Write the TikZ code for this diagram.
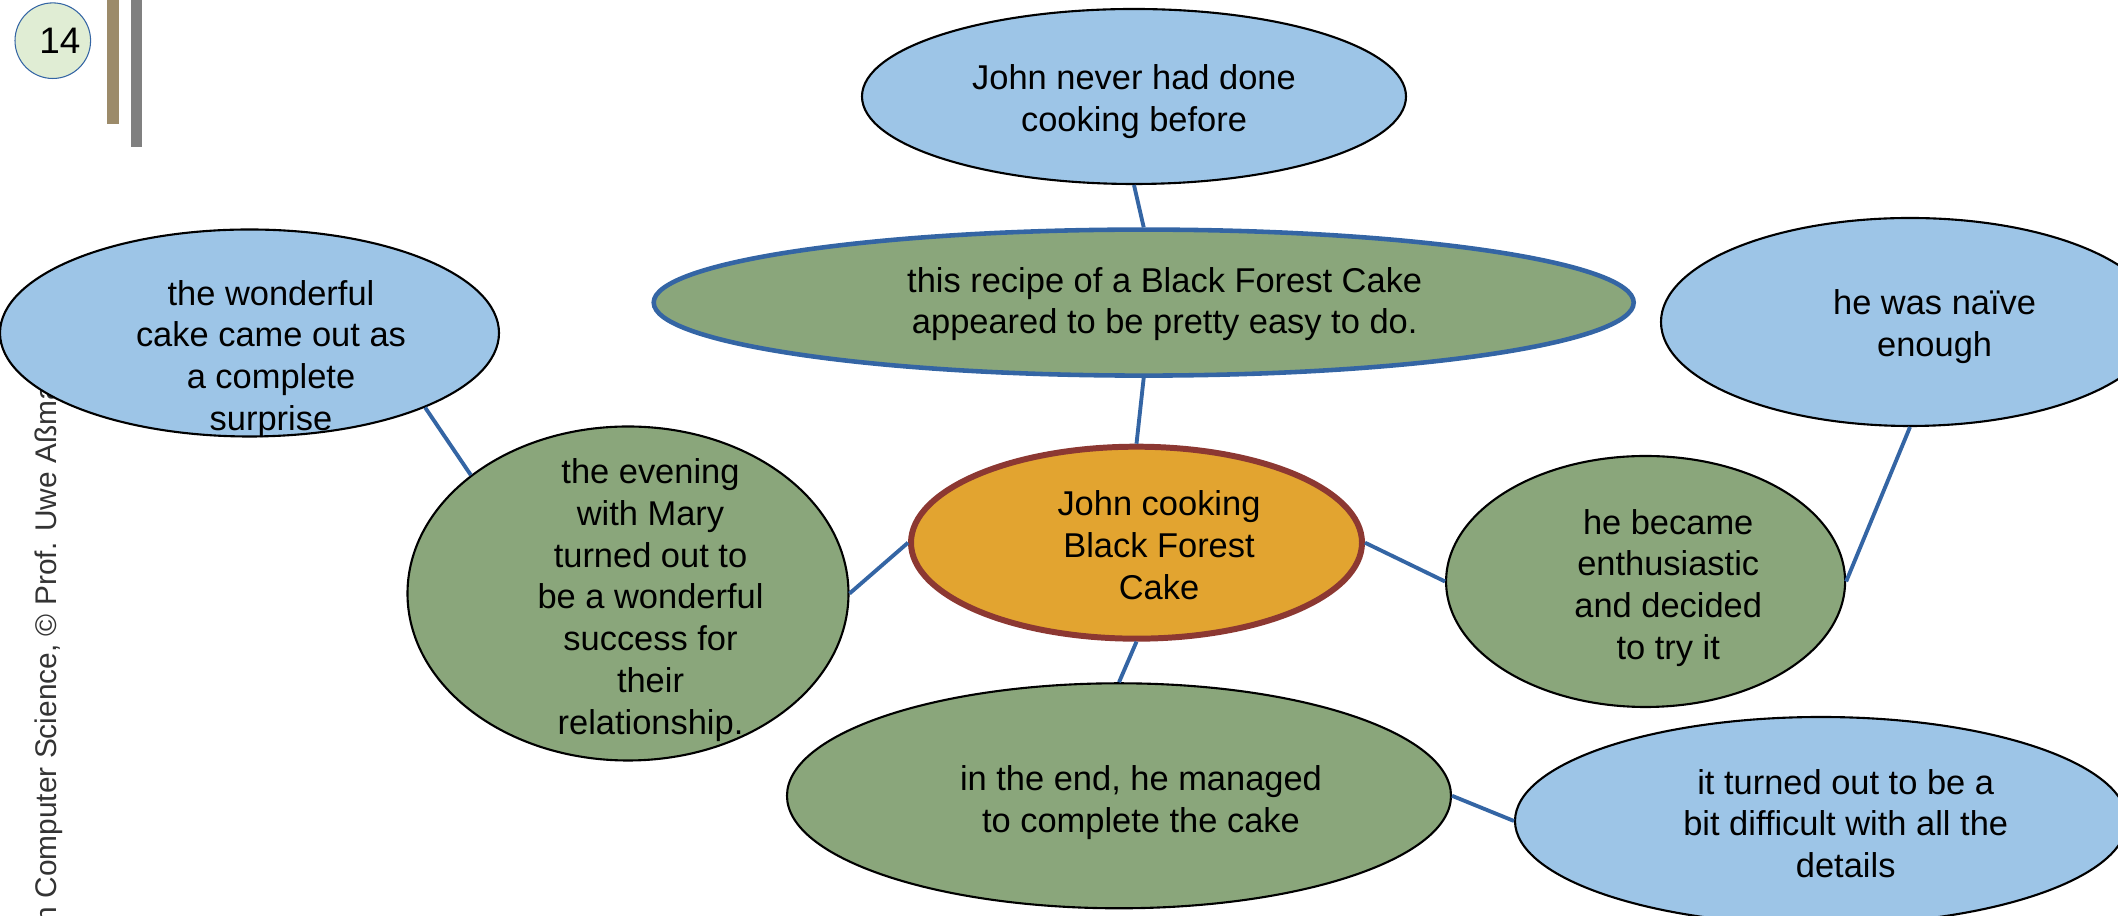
\documentclass[tikz,border=0pt]{standalone}
\usepackage{fontspec}
\setmainfont{Liberation Sans}
\usetikzlibrary{shapes.geometric}
\definecolor{bubbleblue}{RGB}{157,197,231}
\definecolor{bubblegreen}{RGB}{138,166,123}
\definecolor{cakeorange}{RGB}{226,164,48}
\definecolor{cakered}{RGB}{140,56,50}
\definecolor{linkblue}{RGB}{52,101,164}
\definecolor{pagegreen}{RGB}{224,237,212}
\definecolor{bartan}{RGB}{156,139,106}
\definecolor{bargray}{RGB}{128,128,128}

\begin{document}
\begin{tikzpicture}
        \tikzstyle{every node}=[inner sep=0pt]
        \tikzstyle{bubble}=[ellipse, draw=black, line width=0.6pt]
        \tikzstyle{blue bubble}=[bubble, fill=bubbleblue]
        \tikzstyle{green bubble}=[bubble, fill=bubblegreen]
        \tikzstyle{words}=[align=center, font=\fontsize{9.8}{11.9}\selectfont]
        \tikzstyle{link}=[draw=linkblue, line width=1.1pt]
        \useasboundingbox (0,0) rectangle (21.18,-9.16);
        \clip (0,0) rectangle (21.18,-9.16);
        \fill[bartan] (1.073,0) rectangle (1.19,-1.237);
        \fill[bargray] (1.307,0) rectangle (1.423,-1.467);
        \node[circle, draw=linkblue, line width=0.3pt, fill=pagegreen, minimum size=0.756cm, label={[font=\fontsize{10.5}{12}\selectfont, xshift=0.7mm]center:14}] (page) at (0.528,-0.407) {};
        \node[rotate=90, anchor=base west, text=black!80, font=\fontsize{8.5}{10}\selectfont] (footer) at (0.567,-9.24) {n Computer Science, © Prof. Uwe Aßma};
        \node[blue bubble, minimum width=5.44cm, minimum height=1.75cm, label={[words, yshift=-0.55mm]center:{John never had done\\cooking before}}] (never) at (11.34,-0.965) {};
        \node[green bubble, draw=linkblue, line width=1.3pt, minimum width=9.8cm, minimum height=1.46cm, label={[words, xshift=2.1mm, yshift=-0.15mm]center:{this recipe of a Black Forest Cake\\appeared to be pretty easy to do.}}] (recipe) at (11.437,-3.026) {};
        \node[blue bubble, minimum width=4.99cm, minimum height=2.07cm, label={[words, xshift=2.15mm, yshift=-2.6mm]center:{the wonderful\\cake came out as\\a complete\\surprise}}] (surprise) at (2.495,-3.33) {};
        \node[green bubble, minimum width=4.41cm, minimum height=3.34cm, label={[words, xshift=2.25mm, yshift=-0.65mm]center:{the evening\\with Mary\\turned out to\\be a wonderful\\success for\\their\\relationship.}}] (evening) at (6.28,-5.935) {};
        \node[bubble, draw=cakered, line width=1.7pt, fill=cakeorange, minimum width=4.51cm, minimum height=1.92cm, label={[words, xshift=2.25mm, yshift=-0.23mm]center:{John cooking\\Black Forest\\Cake}}] (cake) at (11.365,-5.427) {};
        \node[green bubble, minimum width=3.99cm, minimum height=2.51cm, label={[words, xshift=2.26mm, yshift=-0.65mm]center:{he became\\enthusiastic\\and decided\\to try it}}] (enthusiastic) at (16.456,-5.815) {};
        \node[blue bubble, minimum width=4.98cm, minimum height=2.08cm, label={[words, xshift=2.46mm, yshift=-0.5mm]center:{he was naïve\\enough}}] (naive) at (19.1,-3.22) {};
        \node[green bubble, minimum width=6.64cm, minimum height=2.25cm, label={[words, xshift=2.2mm, yshift=-0.65mm]center:{in the end, he managed\\to complete the cake}}] (managed) at (11.19,-7.958) {};
        \node[blue bubble, minimum width=6.12cm, minimum height=2.08cm, label={[words, xshift=2.47mm, yshift=-0.26mm]center:{it turned out to be a\\bit difficult with all the\\details}}] (details) at (18.21,-8.21) {};
        \draw[link] (never.south) -- (recipe.north);
        \draw[link] (recipe.south) -- (cake.north);
        \draw[link] (cake.west) -- (evening.east);
        \draw[link] (cake.east) -- (enthusiastic.west);
        \draw[link] (cake.south) -- (managed.north);
        \draw[link] (evening.143) -- (surprise.-23);
        \draw[link] (enthusiastic.east) -- (naive.south);
        \draw[link] (managed.east) -- (details.west);
    \end{tikzpicture}
\end{document}
